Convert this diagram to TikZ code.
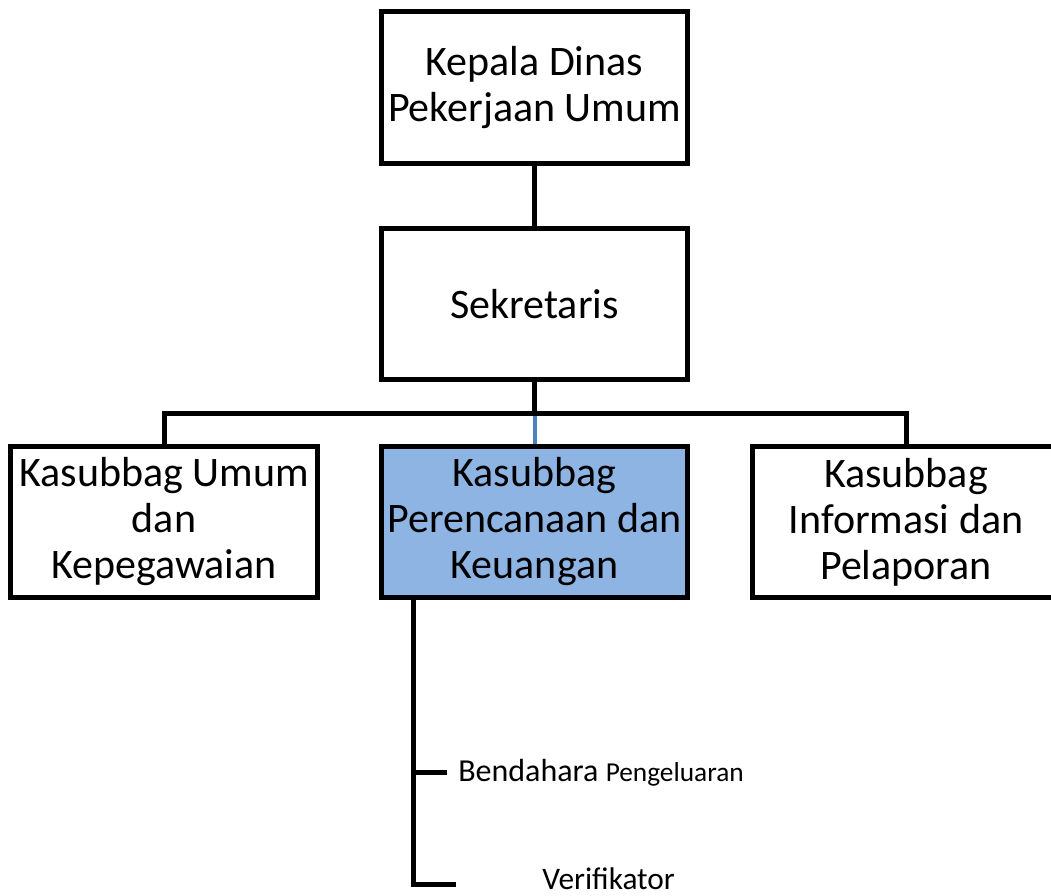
\documentclass[tikz,border=0pt]{standalone}
\usepackage{fontspec}
\setmainfont{Carlito}
\usepackage{xcolor}
\usepackage{tikz}
\usetikzlibrary{positioning}
\definecolor{smartblue}{RGB}{142,180,227}
\definecolor{linkblue}{RGB}{79,129,189}

\begin{document}
\begin{tikzpicture}[x=0.75pt, y=-0.75pt,
    unitbox/.style={draw, line width=3.75pt, minimum width=230pt, minimum height=113.5pt,
        inner sep=0pt, align=center, font=\fontsize{31.5}{34.5}\selectfont},
    conn/.style={line width=3.75pt},
    staff/.style={anchor=base west, inner sep=0pt, font=\fontsize{23.5}{26}\selectfont}]
    \useasboundingbox (0,0) rectangle (1051,896);

    % Head and secretary
    \node[unitbox] (kepala) at (534.5,87.5) {Kepala Dinas\\Pekerjaan Umum};
    \node[unitbox] (sekretaris) at (534.5,304) {Sekretaris};

    % Sub-sections (the right one runs off the page)
    \node[unitbox] (umum) at (164,522) {Kasubbag Umum\\dan\\Kepegawaian};
    \node[unitbox, fill=smartblue] (renc) at (534.5,522) {Kasubbag\\Perencanaan dan\\Keuangan};
    \node[unitbox] (info) at (906,522) {Kasubbag\\Informasi dan\\Pelaporan};

    % Links
    \coordinate (bar) at (534.5,413);
    \draw[conn] (kepala) -- (sekretaris);
    \draw[linkblue, line width=3pt] (bar) -- (renc.north);
    \draw[conn] (sekretaris.south) -- (bar);
    \draw[conn] (umum.north) |- (info.north |- bar) -- (info.north);

    % Staff under Perencanaan dan Keuangan
    \coordinate (trunk) at (413,598);
    \coordinate (btick) at (447,772);
    \coordinate (vtick) at (456,884);
    \draw[conn] (trunk) |- (vtick);
    \draw[conn] (trunk |- btick) -- (btick);
    \node[staff, font=\fontsize{24}{26}\selectfont] (bendahara) at (458,781)
        {Bendahara {\fontsize{20.5}{22}\selectfont Pengeluaran}};
    \node[staff] (verifikator) at (542,889) {Verifikator};
\end{tikzpicture}
\end{document}
